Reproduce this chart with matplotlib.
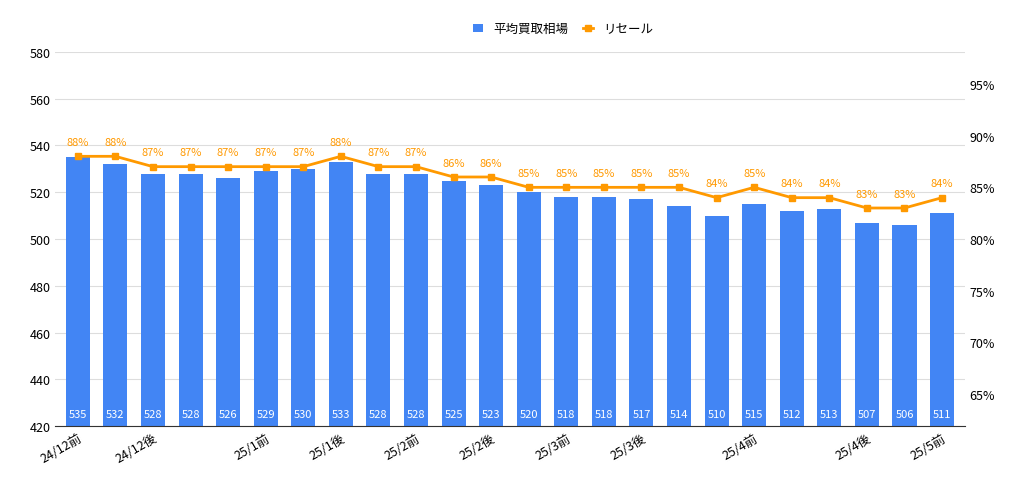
import matplotlib
matplotlib.use("Agg")
import matplotlib.pyplot as plt
from matplotlib.ticker import FuncFormatter

plt.rcParams["font.family"] = ["Noto Sans CJK JP", "DejaVu Sans"]

labels = ["24/12前", "", "24/12後", "", "", "25/1前", "", "25/1後", "", "25/2前", "", "25/2後",
          "", "25/3前", "", "25/3後", "", "", "25/4前", "", "", "25/4後", "", "25/5前"]
buy = [535, 532, 528, 528, 526, 529, 530, 533, 528, 528, 525, 523, 520, 518, 518, 517, 514, 510,
       515, 512, 513, 507, 506, 511]
resale = [88, 88, 87, 87, 87, 87, 87, 88, 87, 87, 86, 86, 85, 85, 85, 85, 85, 84, 85, 84, 84, 83, 83, 84]

blue = "#4285f4"
orange = "#ff9900"

fig = plt.figure(figsize=(10.24, 4.81), dpi=100)
ax = fig.add_axes([0.054, 0.112, 0.888, 0.778])
x = list(range(len(buy)))
bars = ax.bar(x, buy, width=0.64, color=blue, label="平均買取相場", zorder=2)
ax.set_ylim(420, 580)
ax.set_yticks(range(420, 581, 20))
ax.set_xlim(-0.6, len(buy) - 0.4)
ax.grid(axis="y", color="#dddddd", lw=0.8, zorder=0)
for s in ax.spines.values():
    s.set_visible(False)
ax.spines["bottom"].set_visible(True)
ax.spines["bottom"].set_color("#333333")
ax.tick_params(length=0, labelsize=9)
ax.set_xticks(x)
ax.set_xticklabels(labels, rotation=30, ha="right", rotation_mode="anchor", fontsize=9)
for xi, v in zip(x, buy):
    ax.text(xi, 423, str(v), ha="center", va="bottom", color="white", fontsize=8, zorder=3)

ax2 = ax.twinx()
ax2.plot(x, resale, color=orange, lw=2, marker="s", ms=5, label="リセール", zorder=4)
ax2.set_ylim(61.9, 98.1)
ax2.set_yticks(range(65, 96, 5))
ax2.yaxis.set_major_formatter(FuncFormatter(lambda v, p: f"{int(v)}%"))
for s in ax2.spines.values():
    s.set_visible(False)
ax2.tick_params(length=0, labelsize=9)
for xi, v in zip(x, resale):
    ax2.text(xi, v + 0.9, f"{v}%", ha="center", va="bottom", color=orange, fontsize=8)

h1, l1 = ax.get_legend_handles_labels()
h2, l2 = ax2.get_legend_handles_labels()
fig.legend(h1 + h2, l1 + l2, loc="upper center", bbox_to_anchor=(0.55, 0.975), ncol=2,
           frameon=False, fontsize=9, handlelength=0.8, columnspacing=1.2)
fig.savefig("out.png", dpi=100)
